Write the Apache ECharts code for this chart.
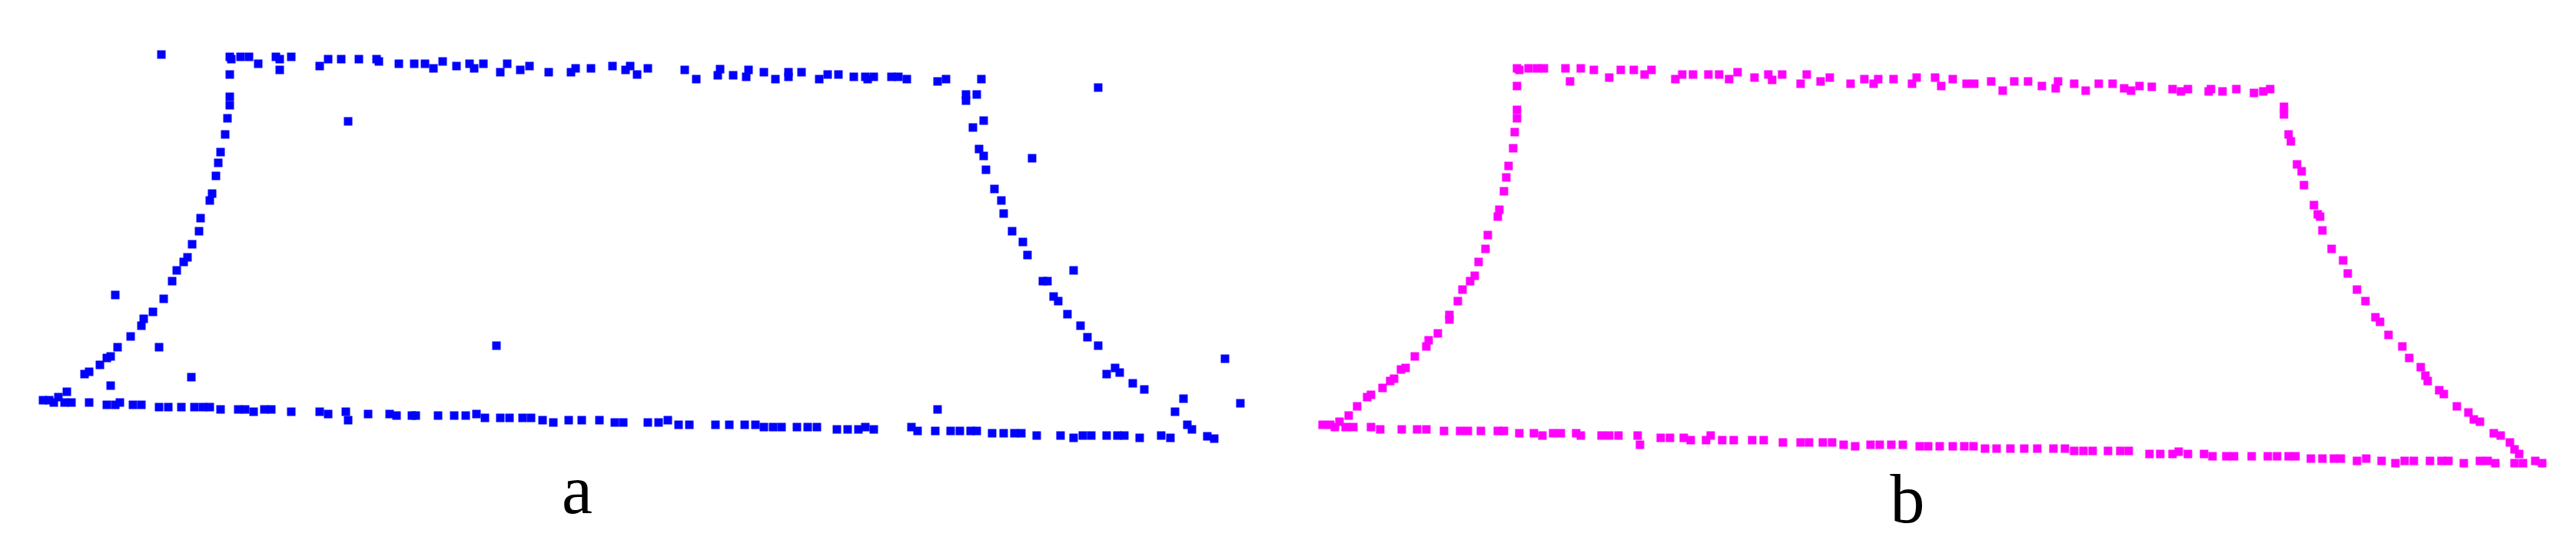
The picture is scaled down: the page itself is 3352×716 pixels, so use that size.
<!DOCTYPE html>
<html>
<head>
<meta charset="utf-8">
<script src="https://cdn.jsdelivr.net/npm/echarts@6/dist/echarts.min.js"></script>
<style>
html,body{margin:0;padding:0;background:#ffffff;}
#chart{width:3352px;height:716px;}
</style>
</head>
<body>
<div id="chart"></div>
<script>
// Panel labels
var panelLabels = ['a', 'b'];

// Panel a (blue), [x, y] in picture units
var aTop = [[299,74],[301,77],[313,74],[324,74],[336,83],[359,74],[364,77],[379,74],[364,91],[416,86],[427,77],[444,77],[467,77],[490,77],[493,80],[519,83],[539,83],[553,83],[564,89],[576,80],
[594,86],[611,83],[617,89],[629,83],[651,94],[660,83],[677,91],[689,86],[714,94],[743,94],[749,89],[769,89],[797,86],[814,91],[820,86],[829,97],[843,89],[891,91],[906,103],[937,90],[934,98],[954,98],[974,91],[971,100],[994,94],[1009,103],[1026,94],[1026,100],[1043,94],[1066,103],[1077,97],[1091,97],[1111,100],[1126,100],[1129,103],[1137,100],
[1160,100],[1169,100],[1180,103],[1220,106],[1231,103],[1277,103]];
var aLeft = [[299,97],[299,126],[299,137],[296,154],[293,175],[287,198],[284,212],[281,229],[276,252],[273,261],[261,284],[259,301],[250,318],[244,335],[239,341],[230,352],[224,366],[213,389],[199,406],[187,415],[184,424],[170,438],[153,452],[144,464],[139,466],[130,475],[116,484],[110,487],[87,510],[76,517]];
var aRight = [[1257,123],[1257,131],[1271,123],[1280,157],[1266,166],[1274,194],[1280,203],[1283,221],[1294,246],[1303,261],[1306,278],[1317,301],[1331,315],[1337,332],[1357,366],[1363,366],[1371,386],[1377,392],[1389,409],[1406,424],[1415,439],[1429,450],[1440,487],[1451,479],[1457,485],[1474,499],[1489,507],[1540,519],[1529,536],[1545,553],[1551,559],[1571,568],[1580,571]];
var aBottom = [[56,521],[64,521],[70,524],[84,524],[93,524],[116,524],[139,527],[150,527],[156,524],[173,527],[184,527],[207,530],[219,530],[236,530],[253,530],[264,530],[273,530],[287,533],[310,533],[319,533],[330,536],[344,533],[353,533],[379,536],[416,536],[427,539],[450,536],[453,547],[479,539],[507,539],[516,541],[536,541],[541,541],[570,541],
[591,541],[606,541],[620,539],[631,544],[651,544],[663,544],[680,544],[691,544],[706,547],[720,550],[740,547],[757,547],[780,547],[800,550],[811,550],[843,550],[857,550],[869,547],[883,553],[897,553],[931,553],[949,553],[969,553],[983,553],[994,556],[1006,556],[1017,556],[1037,556],[1051,556],[1063,556],[1089,559],[1103,559],[1117,559],[1126,556],[1137,559],
[1186,556],[1194,561],[1217,561],[1237,561],[1249,561],[1263,561],[1271,561],[1291,564],[1306,564],[1320,564],[1329,564],[1349,567],[1380,567],[1397,570],[1409,567],[1420,567],[1440,567],[1454,567],[1463,567],[1483,570],[1511,567],[1523,570]];
var aOutliers = [[210,71],[453,158],[150,384],[207,452],[249,491],[144,502],[646,450],[1429,114],[1343,206],[1397,352],[1594,467],[1614,525],[1220,533]];

// Panel b (magenta)
var bTop = [[1974,89],[1977,91],[1989,89],[2000,89],[2009,89],[2037,89],[2057,89],[2043,106],[2074,91],[2094,101],[2109,91],[2126,91],[2140,97],[2149,91],[2180,103],[2189,97],[2203,97],[2223,97],[2237,97],
[2250,103],[2261,94],[2283,101],[2301,97],[2306,104],[2319,97],[2343,109],[2351,97],[2369,106],[2381,101],[2408,109],[2426,103],[2438,109],[2444,103],[2464,103],[2488,109],[2494,101],[2518,101],[2526,112],[2541,103],[2559,109],[2569,109],[2591,106],[2606,118],[2621,106],[2639,106],[2657,112],[2675,115],[2678,106],[2699,109],[2714,118],[2731,109],[2749,109],[2764,115],[2773,118],[2784,112],
[2800,113],[2827,116],[2838,119],[2847,116],[2874,119],[2877,116],[2892,119],[2910,116],[2933,121],[2945,119],[2954,116]];
var bLeft = [[1974,112],[1974,143],[1974,154],[1971,172],[1969,193],[1963,216],[1960,231],[1957,249],[1951,273],[1949,282],[1936,306],[1933,324],[1924,341],[1919,359],[1913,366],[1903,377],[1897,392],[1886,410],[1886,416],[1871,434],[1859,443],[1856,451],[1841,464],[1829,479],[1823,481],[1814,493],[1809,496],[1799,505],[1784,514],[1779,517],[1766,529],[1755,541],[1743,549]];
var bRight = [[2972,139],[2972,149],[2978,175],[2981,184],[2989,214],[2995,223],[2998,241],[3011,267],[3016,279],[3019,282],[3022,300],[3034,324],[3049,339],[3055,356],[3067,377],[3078,392],[3091,413],[3097,419],[3108,436],[3126,451],[3135,466],[3150,478],[3156,489],[3159,496],[3174,508],[3180,513],[3197,529],[3212,537],[3219,546],[3227,549],[3245,564],[3254,567],[3266,576],[3272,585],[3278,591]];
var bBottom = [[1721,553],[1731,553],[1737,556],[1751,556],[1761,556],[1784,556],[1796,559],[1824,559],[1844,559],[1856,559],[1879,561],[1900,561],[1910,561],[1927,561],[1949,561],[1957,561],[1977,564],[1996,564],[2007,567],[2021,564],[2031,564],[2051,564],[2057,567],[2084,567],[2094,567],[2106,567],[2131,567],[2134,579],[2161,570],[2173,570],[2191,570],[2200,573],[2220,573],[2226,567],
[2241,573],[2256,573],[2280,573],[2295,573],[2320,576],[2343,576],[2354,576],[2372,576],[2384,576],[2399,579],[2414,581],[2434,579],[2446,579],[2461,579],[2476,579],[2498,581],[2509,581],[2524,581],[2541,581],[2556,581],[2568,581],[2583,584],[2598,584],[2616,584],[2634,584],[2651,584],[2672,584],[2687,584],[2699,587],[2711,587],[2723,587],[2743,587],[2759,587],[2770,587],
[2797,591],[2811,591],[2827,591],[2835,588],[2847,591],[2868,591],[2879,594],[2897,594],[2907,594],[2930,594],[2951,594],[2963,594],[2978,594],[2987,594],[3007,597],[3022,597],[3037,597],[3046,597],[3067,600],[3079,597],[3099,600],[3117,603],[3129,600],[3141,600],[3162,600],[3177,600],[3186,600],[3206,603],[3227,600],[3237,600],[3247,603],[3272,603],[3283,603],[3299,600],[3308,603]];

var chart = echarts.init(document.getElementById('chart'), null, {renderer: 'canvas', width: 3352, height: 716});

function pts(name, data, color) {
  return {
    name: name,
    type: 'scatter',
    data: data,
    symbol: 'rect',
    symbolSize: 11,
    itemStyle: {color: color, opacity: 1},
    silent: true,
    animation: false
  };
}

var blue = '#0000FF';
var magenta = '#FF00FF';

chart.setOption({
  backgroundColor: '#ffffff',
  animation: false,
  grid: {left: 0, right: 0, top: 0, bottom: 0},
  xAxis: {type: 'value', min: 0, max: 3352, show: false},
  yAxis: {type: 'value', min: 0, max: 716, inverse: true, show: false},
  series: [
    pts('a-top', aTop, blue),
    pts('a-left', aLeft, blue),
    pts('a-right', aRight, blue),
    pts('a-bottom', aBottom, blue),
    pts('a-outliers', aOutliers, blue),
    pts('b-top', bTop, magenta),
    pts('b-left', bLeft, magenta),
    pts('b-right', bRight, magenta),
    pts('b-bottom', bBottom, magenta)
  ],
  graphic: [
    {type: 'text', x: 751, y: 644, style: {text: panelLabels[0], font: '90px "Liberation Serif"', fill: '#000000', textAlign: 'center', textVerticalAlign: 'middle'}},
    {type: 'text', x: 2482, y: 656, style: {text: panelLabels[1], font: '90px "Liberation Serif"', fill: '#000000', textAlign: 'center', textVerticalAlign: 'middle'}}
  ]
});
</script>
</body>
</html>
